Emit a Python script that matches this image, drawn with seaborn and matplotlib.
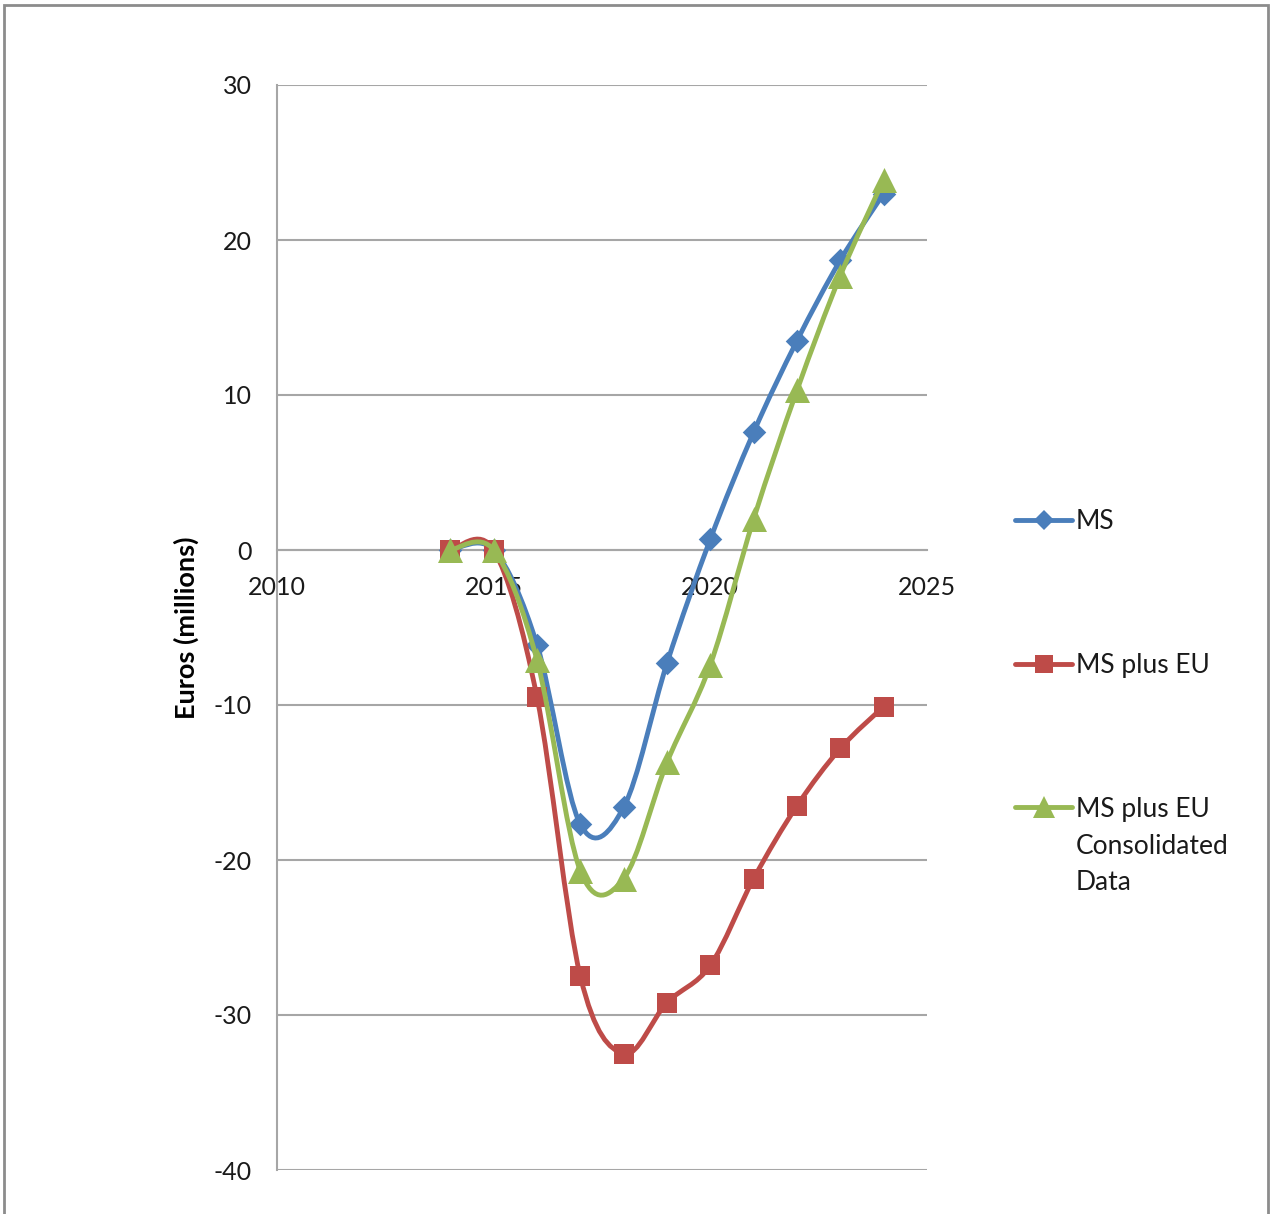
import numpy as np
import matplotlib
matplotlib.use("Agg")
import matplotlib.pyplot as plt
from matplotlib.path import Path
from matplotlib.patches import PathPatch, Rectangle
from matplotlib.lines import Line2D
import seaborn as sns

# values (euros, millions)
years = [2014, 2015, 2016, 2017, 2018, 2019, 2020, 2021, 2022, 2023, 2024]
ms = [0.0, 0.0, -6.1, -17.7, -16.6, -7.3, 0.7, 7.6, 13.5, 18.7, 23.0]
ms_eu = [0.0, 0.0, -9.5, -27.5, -32.5, -29.2, -26.8, -21.2, -16.5, -12.8, -10.1]
ms_eu_cons = [0.0, 0.0, -7.1, -20.7, -21.2, -13.7, -7.4, 2.0, 10.3, 17.7, 23.9]

series_names = ["MS", "MS plus EU", "MS plus EU"]
extra_label = "Consolidated\nData"
series_vals = [ms, ms_eu, ms_eu_cons]
colors = ["#4a7ebb", "#be4b48", "#98b954"]
markers = ["D", "s", "^"]
marker_sizes = [12, 15, 18]

sns.set_style("white")
plt.rcParams["font.family"] = ["Lato", "DejaVu Sans"]
plt.rcParams["axes.unicode_minus"] = False


def smooth_path(x, y):
    # Excel-like smoothed line: Catmull-Rom segments as cubic Bezier curves
    pts = np.column_stack([x, y]).astype(float)
    n = len(pts)
    verts = [pts[0]]
    codes = [Path.MOVETO]
    for i in range(n - 1):
        p0 = pts[i - 1] if i > 0 else pts[i]
        p1 = pts[i]
        p2 = pts[i + 1]
        p3 = pts[i + 2] if i + 2 < n else pts[i + 1]
        verts += [p1 + (p2 - p0) / 6, p2 - (p3 - p1) / 6, p2]
        codes += [Path.CURVE4] * 3
    return Path(verts, codes)


W, H = 1271, 1214
fig = plt.figure(figsize=(W / 100, H / 100), dpi=100)
ax = fig.add_axes([277 / W, 1 - 1170 / H, 650 / W, 1085 / H])

for k, vals in enumerate(series_vals):
    patch = PathPatch(smooth_path(years, vals), fill=False, edgecolor=colors[k],
                      lw=3.5, capstyle="round", joinstyle="round", zorder=3 + k)
    ax.add_patch(patch)
    sns.scatterplot(x=years, y=vals, ax=ax, marker=markers[k], color=colors[k],
                    s=marker_sizes[k] ** 2, linewidth=0, zorder=3 + k, legend=False)

ax.set_xlim(2010, 2025)
ax.set_ylim(-40, 30)
ax.set_xticks([2010, 2015, 2020, 2025])
ax.set_yticks(range(-40, 31, 10))

grid_col = "#a6a6a6"
ax.yaxis.grid(True, color=grid_col, lw=1.5, zorder=1)
ax.xaxis.grid(False)
ax.set_axisbelow(True)
for side in ["top", "right"]:
    ax.spines[side].set_visible(False)
ax.spines["left"].set_color(grid_col)
ax.spines["left"].set_linewidth(1.5)
ax.spines["bottom"].set_position(("data", 0))
ax.spines["bottom"].set_color(grid_col)
ax.spines["bottom"].set_linewidth(1.5)

ax.tick_params(axis="both", which="major", direction="out", length=7, width=1.5,
               color=grid_col, labelsize=18, labelcolor="#1a1a1a")
ax.tick_params(axis="y", pad=11)
ax.tick_params(axis="x", pad=12)
ax.set_xlabel("")
ax.set_ylabel("Euros (millions)", fontsize=19.5, fontweight="bold", color="black")
ax.yaxis.set_label_coords(-0.12, 0.5)

handles = [Line2D([0], [0], color=colors[k], lw=3.5, marker=markers[k],
                  markersize=marker_sizes[k] * 0.85, markeredgewidth=0,
                  solid_capstyle="round")
           for k in range(3)]
leg = fig.legend(handles, series_names, loc="upper left",
                 bbox_to_anchor=(1002 / W, 1 - 496 / H), frameon=False,
                 fontsize=19, handlelength=2.15, handletextpad=0.15,
                 labelspacing=4.5, borderpad=0, labelcolor="#1a1a1a")

# the rest of the third legend label, under its first line
fig.canvas.draw()
ax.annotate(extra_label, xy=(0, 0), xycoords=leg.get_texts()[2],
            xytext=(0, -9), textcoords="offset points", ha="left", va="top",
            fontsize=19, color="#1a1a1a", linespacing=1.55,
            annotation_clip=False)

fig.patches.append(Rectangle((4 / W, -0.01), 1264 / W, 1 - 5 / H + 0.01,
                             transform=fig.transFigure, fill=False,
                             edgecolor="#8c8c8c", lw=2))

fig.savefig("out.png", dpi=100)
